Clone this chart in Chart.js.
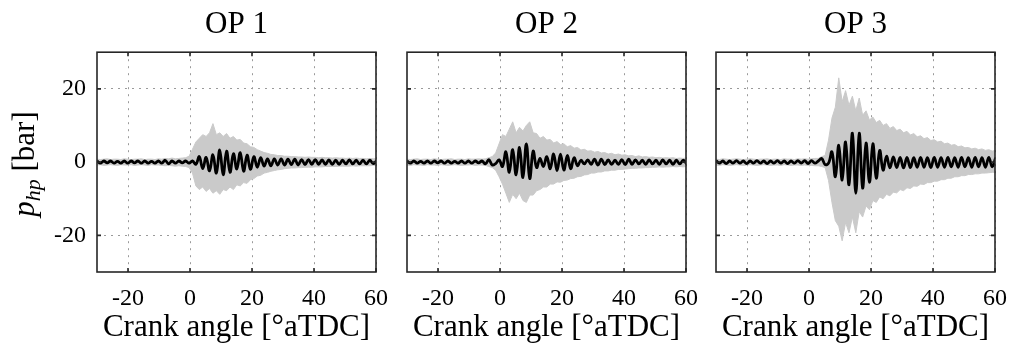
<!DOCTYPE html>
<html>
<head>
<meta charset="utf-8">
<script src="https://cdn.jsdelivr.net/npm/chart.js@4.4.1/dist/chart.umd.min.js"></script>
<style>
  body { margin: 0; background: #fff; }
  #wrap { position: relative; width: 1011px; height: 349px; }
  #wrap canvas { position: absolute; top: 0; }
</style>
</head>
<body>
<div id="wrap">
  <canvas id="op1" width="391" height="349" style="left:0px"></canvas>
  <canvas id="op2" width="309" height="349" style="left:392px"></canvas>
  <canvas id="op3" width="309" height="349" style="left:701px"></canvas>
</div>
<script>
// Crank angle grid [deg aTDC], shared by all three operating points
const angle = [
  -30.0, -28.9, -27.8, -26.7, -25.6, -24.5, -23.4, -22.3, -21.2, -20.1,
  -19.0, -17.9, -16.8, -15.7, -14.6, -13.5, -12.4, -11.3, -10.2, -9.1,
  -8.0, -6.9, -5.8, -4.7, -3.6, -2.5, -1.4, -0.3, 0.8, 1.9,
  3.0, 4.1, 5.2, 6.3, 7.4, 8.5, 9.6, 10.7, 11.8, 12.9,
  14.0, 15.1, 16.2, 17.3, 18.4, 19.5, 20.6, 21.7, 22.8, 23.9,
  25.0, 26.1, 27.2, 28.3, 29.4, 30.5, 31.6, 32.7, 33.8, 34.9,
  36.0, 37.1, 38.2, 39.3, 40.4, 41.5, 42.6, 43.7, 44.8, 45.9,
  47.0, 48.1, 49.2, 50.3, 51.4, 52.5, 53.6, 54.7, 55.8, 56.9,
  58.0, 59.1, 60.2
];

const xTicks = [-20, 0, 20, 40, 60];
const yTicks = [-20, 0, 20];
const titles = ['OP 1', 'OP 2', 'OP 3'];

// OP 1: mean trace and min/max envelope [bar]
const mean1 = [
  0.3,-0.3,0.3,-0.2,0.3,-0.3,0.2,-0.3,0.3,-0.3,
  0.3,-0.2,0.3,-0.3,0.3,-0.3,0.2,-0.3,0.3,-0.3,
  0.5,-0.5,0.3,-0.3,0.3,-0.2,0.3,-0.3,0.3,-0.6,
  1.5,-1.8,1.3,-2.4,2.0,-3.0,3.3,-3.5,3.0,-2.8,
  2.3,-1.9,2.6,-2.5,1.9,-2.0,1.5,-1.4,1.2,-1.1,
  0.9,-1.0,0.9,-0.8,0.9,-0.8,0.8,-0.7,0.8,-0.8,
  0.7,-0.7,0.7,-0.6,0.7,-0.6,0.6,-0.6,0.6,-0.6,
  0.5,-0.6,0.5,-0.5,0.6,-0.5,0.5,-0.5,0.5,-0.5,
  0.5,-0.4,0.4
];
const upper1 = [
  0.8,0.7,0.8,0.9,0.7,0.8,0.8,0.7,0.9,0.8,
  0.7,0.8,0.8,0.9,0.7,0.8,0.8,0.7,0.9,0.8,
  1.0,0.9,1.1,0.9,1.0,1.1,1.2,1.6,3.5,5.5,
  6.5,7.5,7.0,8.0,10.5,7.5,8.0,7.0,7.8,6.5,
  7.0,6.0,6.2,5.2,5.0,4.2,4.0,3.4,3.0,2.6,
  2.4,2.1,2.0,1.8,1.8,1.6,1.6,1.5,1.5,1.4,
  1.4,1.3,1.4,1.3,1.3,1.2,1.3,1.2,1.2,1.1,
  1.2,1.1,1.1,1.0,1.1,1.0,1.1,1.0,1.0,0.9,
  1.0,0.9,1.0
];
const lower1 = [
  -0.8,-0.7,-0.9,-0.8,-0.7,-0.8,-0.9,-0.7,-0.8,-0.8,
  -0.7,-0.9,-0.8,-0.7,-0.8,-0.9,-0.7,-0.8,-0.8,-0.9,
  -1.0,-0.9,-1.0,-1.1,-1.0,-1.1,-1.2,-1.5,-3.0,-6.5,
  -7.5,-6.8,-8.0,-7.2,-8.5,-7.8,-8.8,-7.5,-7.8,-6.8,
  -7.5,-6.2,-6.5,-5.6,-5.8,-4.8,-4.5,-3.8,-3.6,-3.0,
  -2.8,-2.5,-2.3,-2.1,-2.0,-1.8,-1.7,-1.6,-1.6,-1.5,
  -1.5,-1.4,-1.4,-1.4,-1.3,-1.3,-1.3,-1.2,-1.2,-1.2,
  -1.2,-1.1,-1.1,-1.1,-1.1,-1.0,-1.1,-1.0,-1.0,-1.0,
  -1.0,-0.9,-1.0
];

// OP 2
const mean2 = [
  0.3,-0.3,0.3,-0.3,0.2,-0.3,0.3,-0.3,0.3,-0.2,
  0.3,-0.3,0.3,-0.3,0.2,-0.3,0.3,-0.3,0.3,-0.3,
  0.3,-0.2,0.3,-0.5,0.7,-0.8,-0.4,0.6,-1.2,2.8,
  -2.8,3.4,-3.5,4.0,-4.2,5.0,-4.5,3.0,-1.5,1.0,
  -1.2,1.5,-1.8,2.2,-2.3,2.2,-2.2,1.8,-1.8,1.2,
  -1.0,0.5,-0.5,0.6,-0.6,0.8,-0.8,0.8,-0.7,0.6,
  -0.6,0.5,-0.6,0.7,-0.7,0.8,-0.6,0.6,-0.5,0.5,
  -0.6,0.6,-0.5,0.5,-0.6,0.6,-0.5,0.5,-0.6,0.5,
  -0.5,0.5,-0.5
];
const upper2 = [
  0.8,0.7,0.8,0.9,0.7,0.8,0.8,0.7,0.9,0.8,
  0.7,0.8,0.8,0.9,0.7,0.8,0.8,0.7,0.9,0.8,
  0.8,0.9,0.8,0.9,1.2,1.5,2.5,5.0,7.5,7.0,
  9.0,11.0,8.0,9.5,8.5,10.0,11.0,8.0,7.8,6.5,
  7.0,6.0,6.2,5.2,5.6,4.8,5.0,4.2,4.5,3.8,
  4.0,3.3,3.5,3.0,3.1,2.7,2.9,2.5,2.6,2.2,
  2.4,2.0,2.2,1.9,2.0,1.7,1.8,1.5,1.7,1.4,
  1.5,1.3,1.4,1.2,1.3,1.1,1.2,1.1,1.2,1.0,
  1.1,1.0,1.1
];
const lower2 = [
  -0.8,-0.9,-0.7,-0.8,-0.8,-0.9,-0.7,-0.8,-0.8,-0.9,
  -0.7,-0.8,-0.9,-0.8,-0.7,-0.8,-0.9,-0.8,-0.8,-0.7,
  -0.9,-0.8,-0.8,-0.9,-1.2,-1.5,-2.2,-4.0,-6.0,-8.5,
  -11.0,-8.8,-10.0,-8.5,-10.5,-11.0,-9.0,-9.0,-7.8,-7.5,
  -6.8,-6.8,-6.0,-6.0,-5.4,-5.5,-5.0,-4.9,-4.5,-4.4,
  -4.0,-3.9,-3.5,-3.4,-3.0,-3.0,-2.7,-2.7,-2.4,-2.4,
  -2.2,-2.2,-2.0,-2.0,-1.9,-1.8,-1.7,-1.7,-1.6,-1.6,
  -1.5,-1.5,-1.4,-1.4,-1.3,-1.4,-1.3,-1.3,-1.2,-1.3,
  -1.2,-1.3,-1.2
];

// OP 3
const mean3 = [
  0.4,-0.3,0.3,-0.4,0.3,-0.3,0.4,-0.3,0.3,-0.4,
  0.3,-0.3,0.4,-0.3,0.3,-0.4,0.3,-0.3,0.4,-0.3,
  0.3,-0.4,0.3,-0.3,0.4,-0.3,0.4,-0.4,0.4,-0.3,
  0.3,1.0,-0.7,-0.3,2.8,-4.0,4.6,-4.9,5.5,-6.2,
  7.9,-8.5,7.9,-7.1,5.2,-5.5,5.0,-4.4,3.2,-2.2,
  1.6,-1.6,1.4,-1.5,1.3,-1.6,1.3,-1.5,1.2,-1.4,
  1.3,-1.4,1.2,-1.5,1.3,-1.4,1.2,-1.4,1.3,-1.3,
  1.2,-1.4,1.3,-1.3,1.2,-1.4,1.3,-1.3,1.2,-1.4,
  1.3,-1.3,1.2
];
const upper3 = [
  0.8,0.7,0.9,0.8,0.7,0.8,0.9,0.8,0.7,0.8,
  0.9,0.8,0.7,0.8,0.8,0.9,0.7,0.8,0.8,0.7,
  0.9,0.8,0.8,0.7,0.9,0.8,0.9,0.8,0.9,1.0,
  1.0,1.5,1.8,6.0,12.0,15.0,23.0,16.5,19.5,15.5,
  18.0,14.0,17.5,12.8,14.0,11.5,12.3,10.8,11.4,10.0,
  10.5,9.2,9.7,8.6,9.0,8.0,8.4,7.4,7.8,6.9,
  7.2,6.4,6.7,5.9,6.1,5.5,5.7,5.0,5.2,4.6,
  4.8,4.2,4.4,3.9,4.0,3.6,3.8,3.4,3.6,3.2,
  3.4,3.0,3.2
];
const lower3 = [
  -0.8,-0.9,-0.7,-0.8,-0.9,-0.8,-0.7,-0.8,-0.9,-0.8,
  -0.7,-0.8,-0.9,-0.8,-0.7,-0.8,-0.9,-0.8,-0.8,-0.9,
  -0.7,-0.8,-0.9,-0.8,-0.8,-0.9,-0.8,-0.9,-0.9,-1.0,
  -1.0,-1.2,-1.5,-5.0,-11.0,-16.0,-17.5,-21.5,-16.5,-19.3,
  -15.0,-19.3,-13.5,-15.0,-12.0,-13.0,-10.5,-11.0,-9.5,-10.0,
  -8.8,-9.2,-8.2,-8.4,-7.5,-7.8,-7.0,-7.2,-6.5,-6.6,
  -6.0,-6.1,-5.6,-5.6,-5.2,-5.2,-4.8,-4.8,-4.4,-4.4,
  -4.0,-4.0,-3.7,-3.7,-3.4,-3.4,-3.2,-3.2,-3.0,-3.0,
  -2.9,-2.8,-2.8
];

const SERIF = "'Liberation Serif', 'Times New Roman', serif";
const BAND = '#cacaca';
const GRID = '#9a9a9a';
const AXIS = '#262626';

Chart.defaults.font.family = SERIF;
Chart.defaults.color = '#000';

const pts = arr => angle.map((x, i) => ({ x: x, y: arr[i] }));

// MATLAB-like box with inward ticks
const boxPlugin = {
    id: 'box',
    afterDraw(chart) {
        const { ctx, chartArea: a, scales: { x, y } } = chart;
        ctx.save();
        ctx.strokeStyle = AXIS;
        ctx.lineWidth = 1.6;
        ctx.beginPath();
        xTicks.forEach(v => {
            const px = x.getPixelForValue(v);
            ctx.moveTo(px, a.bottom); ctx.lineTo(px, a.bottom - 4);
            ctx.moveTo(px, a.top); ctx.lineTo(px, a.top + 4);
        });
        yTicks.forEach(v => {
            const py = y.getPixelForValue(v);
            ctx.moveTo(a.left, py); ctx.lineTo(a.left + 4, py);
            ctx.moveTo(a.right, py); ctx.lineTo(a.right - 4, py);
        });
        ctx.stroke();
        ctx.strokeRect(a.left, a.top, a.right - a.left, a.bottom - a.top);
        ctx.restore();
    }
};

// y label "p_hp [bar]" with italic subscript, rotated
const yLabelPlugin = {
    id: 'ylab',
    afterDraw(chart) {
        const ctx = chart.ctx;
        const big = "31px " + SERIF, bigIt = "italic 31px " + SERIF, sub = "italic 22px " + SERIF;
        ctx.save();
        ctx.fillStyle = '#000';
        ctx.textBaseline = 'alphabetic';
        ctx.font = bigIt; const wp = ctx.measureText('p').width;
        ctx.font = sub; const wh = ctx.measureText('hp').width;
        ctx.font = big; const wb = ctx.measureText(' [bar]').width;
        const total = wp + wh + wb;
        ctx.translate(34, 164);
        ctx.rotate(-Math.PI / 2);
        let x0 = -total / 2;
        ctx.font = bigIt; ctx.fillText('p', x0, 0);
        ctx.font = sub; ctx.fillText('hp', x0 + wp, 6);
        ctx.font = big; ctx.fillText(' [bar]', x0 + wp + wh, 0);
        ctx.restore();
    }
};

function makePanel(id, title, mean, upper, lower, first) {
    const ctx = document.getElementById(id).getContext('2d');
    return new Chart(ctx, {
        type: 'line',
        data: {
            datasets: [
                { data: pts(mean), borderColor: '#000', borderWidth: 2.8, tension: 0.4, fill: false, order: 0 },
                { data: pts(upper), borderColor: BAND, backgroundColor: BAND, borderWidth: 1, tension: 0, fill: '+1', order: 1 },
                { data: pts(lower), borderColor: BAND, borderWidth: 1, tension: 0, fill: false, order: 2 }
            ]
        },
        options: {
            responsive: false,
            animation: false,
            events: [],
            layout: { padding: { left: 0, right: 15, top: 0, bottom: 0 } },
            elements: { point: { radius: 0 } },
            plugins: {
                legend: { display: false },
                tooltip: { enabled: false },
                title: {
                    display: true, text: title, fullSize: false, color: '#000',
                    font: { family: SERIF, size: 31, weight: 'normal', lineHeight: 1.2 },
                    padding: { top: 6, bottom: 9 }
                }
            },
            scales: {
                x: {
                    type: 'linear', min: -30, max: 60,
                    afterBuildTicks: s => { s.ticks = xTicks.map(v => ({ value: v })); },
                    afterFit: s => { s.height = 77; s.paddingLeft = 0; s.paddingRight = 0; },
                    grid: { color: GRID, lineWidth: 1, drawTicks: false },
                    border: { display: false, dash: [2, 5] },
                    ticks: { color: '#000', font: { size: 24 }, padding: 12, maxRotation: 0, autoSkip: false },
                    title: {
                        display: true, text: 'Crank angle [°aTDC]', color: '#000',
                        font: { size: 31, lineHeight: 1.2 }, padding: { top: 0, bottom: 3 }
                    }
                },
                y: {
                    type: 'linear', min: -30, max: 30,
                    afterBuildTicks: s => { s.ticks = yTicks.map(v => ({ value: v })); },
                    afterFit: s => { s.width = first ? 97 : 15; s.paddingTop = 0; s.paddingBottom = 0; },
                    grid: { color: GRID, lineWidth: 1, drawTicks: false },
                    border: { display: false, dash: [2, 5] },
                    ticks: { display: first, color: '#000', font: { size: 24 }, padding: 11 }
                }
            }
        },
        plugins: first ? [boxPlugin, yLabelPlugin] : [boxPlugin]
    });
}

makePanel('op1', titles[0], mean1, upper1, lower1, true);
makePanel('op2', titles[1], mean2, upper2, lower2, false);
makePanel('op3', titles[2], mean3, upper3, lower3, false);
</script>
</body>
</html>
